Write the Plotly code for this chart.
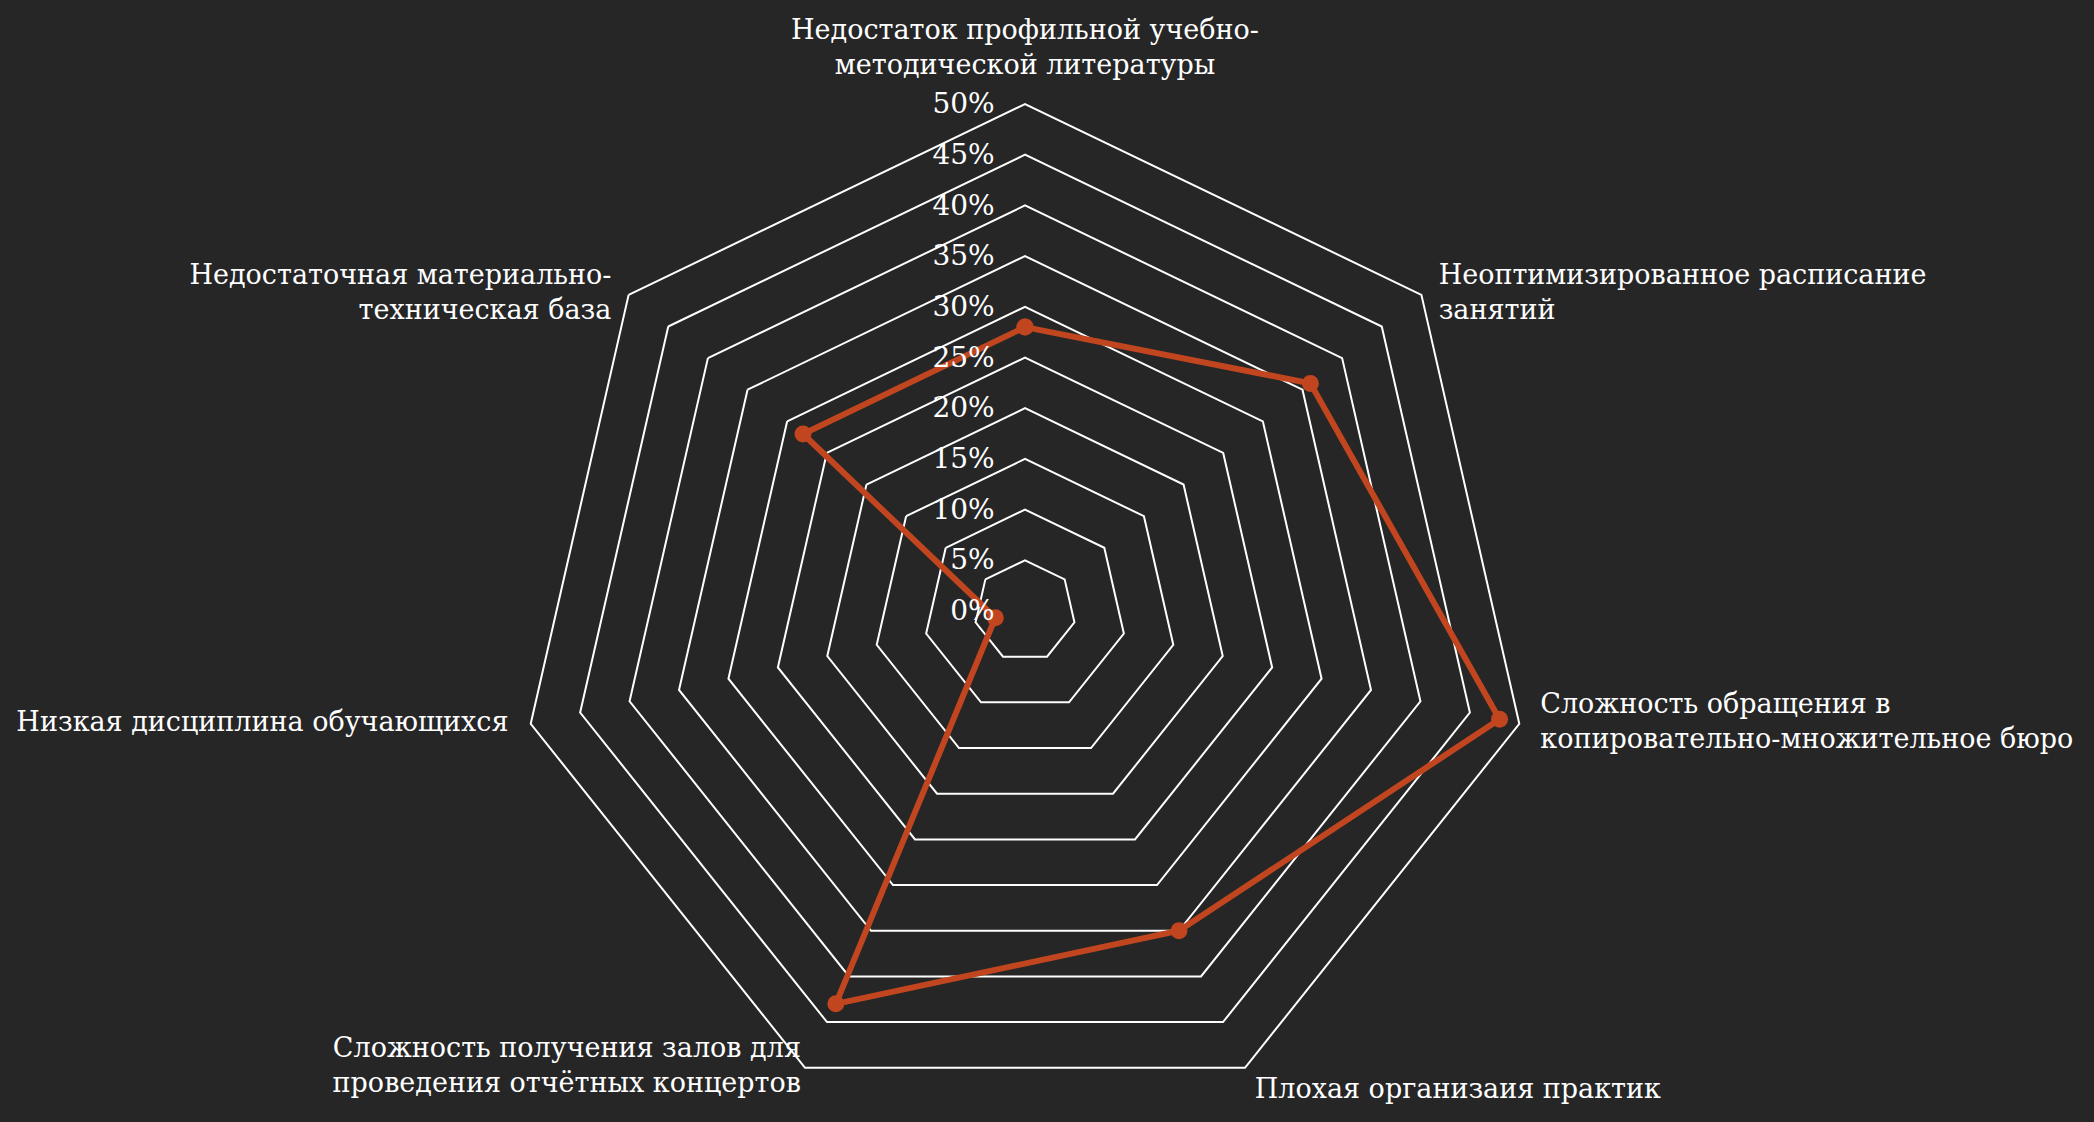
import plotly.graph_objects as go

categories = [
    "Недостаток профильной учебно-<br>методической литературы",
    "Неоптимизированное расписание<br>занятий",
    "Сложность обращения в<br>копировательно-множительное бюро",
    "Плохая организаия практик",
    "Сложность получения залов для<br>проведения отчётных концертов",
    "Низкая дисциплина обучающихся",
    "Недостаточная материально-<br>техническая база",
]
values = [28, 36, 48, 35, 43, 3, 28]
tick_values = [0, 5, 10, 15, 20, 25, 30, 35, 40, 45, 50]
tick_labels = [f"{v}%" for v in tick_values]
axis_max = 50

# label placement styles (one per category)
label_positions = ["top center", "middle right", "middle right", "bottom right",
                   "middle left", "middle left", "middle left"]
label_offsets = [35, 26, 32, 14, 5, 34, 26]

FONT = "DejaVu Serif"
LINE_COLOR = "#C1461F"
BG = "#262627"

fig = go.Figure()
fig.add_trace(go.Scatterpolar(
    r=values + values[:1],
    theta=categories + categories[:1],
    mode="lines+markers",
    line=dict(color=LINE_COLOR, width=6),
    marker=dict(color=LINE_COLOR, size=17),
    showlegend=False,
    hoverinfo="skip",
))
# category labels, placed at the outer vertex of each spoke
fig.add_trace(go.Scatterpolar(
    r=[axis_max] * len(categories),
    theta=categories,
    mode="markers+text",
    text=categories,
    textposition=label_positions,
    textfont=dict(family=FONT, size=27, color="white"),
    marker=dict(size=label_offsets, color="rgba(0,0,0,0)", opacity=0,
                line=dict(width=0, color="rgba(0,0,0,0)")),
    cliponaxis=False,
    showlegend=False,
    hoverinfo="skip",
))

fig.update_layout(
    width=2094,
    height=1122,
    paper_bgcolor=BG,
    plot_bgcolor=BG,
    margin=dict(l=0, r=0, t=104, b=4),
    font=dict(family=FONT, color="white", size=27),
    polar=dict(
        domain=dict(x=[0, 0.979], y=[0, 1]),
        bgcolor="rgba(0,0,0,0)",
        gridshape="linear",
        angularaxis=dict(
            rotation=90,
            direction="clockwise",
            showgrid=False,
            showline=True,
            linecolor="white",
            linewidth=2,
            ticks="",
            showticklabels=False,
        ),
        radialaxis=dict(
            range=[0, axis_max],
            tickvals=tick_values,
            ticktext=tick_labels,
            angle=90,
            side="counterclockwise",
            tickangle=90,
            showline=False,
            showgrid=True,
            gridcolor="white",
            gridwidth=2,
            ticks="outside",
            ticklen=20,
            tickcolor="rgba(0,0,0,0)",
            tickfont=dict(family=FONT, size=28, color="white"),
        ),
    ),
)

fig.write_html(
    "out.html",
    config={"displayModeBar": False},
    post_script="document.body.style.margin='0';document.body.style.overflow='hidden';",
)
